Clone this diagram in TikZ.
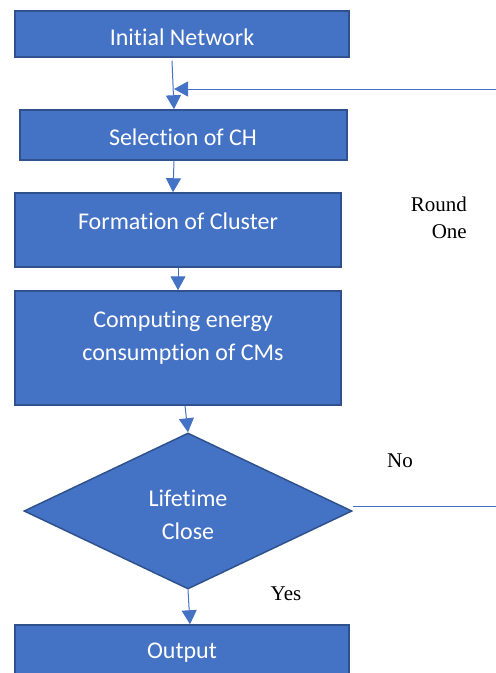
\documentclass[tikz,border=0pt]{standalone}
\usepackage{fontspec}
\setmainfont{Liberation Serif}
\newfontfamily\boxfont[Ligatures={NoCommon}]{Carlito}
\usetikzlibrary{arrows.meta,shapes.geometric,calc}
\definecolor{boxfill}{HTML}{4472C4}
\definecolor{boxline}{HTML}{2F528F}
\begin{document}
\begin{tikzpicture}[x=1pt,y=1pt,
  stepbox/.style={draw=boxline,fill=boxfill,line width=1.5pt,rectangle,inner sep=0pt},
  boxtext/.style={text=white,font=\boxfont\fontsize{24}{33}\selectfont,align=center,inner sep=0pt},
  plain/.style={font=\fontsize{21}{26.5}\selectfont,inner sep=0pt},
  conn/.style={draw=boxfill,line width=1pt,-{Triangle[width=15pt,length=14pt]}},
  line/.style={draw=boxfill,line width=1pt}]
\useasboundingbox (0,0) rectangle (496,-673);
\clip (0,0) rectangle (496,-673);
% boxes
\node[stepbox,minimum width=334pt,minimum height=46pt] (b1) at (182,-34) {};
\node[stepbox,minimum width=327pt,minimum height=50pt] (b2) at (183.5,-135) {};
\node[stepbox,minimum width=326pt,minimum height=74pt] (b3) at (178,-230) {};
\node[stepbox,minimum width=326pt,minimum height=114pt] (b4) at (178,-348) {};
\node[stepbox,diamond,minimum width=328pt,minimum height=156pt,aspect=2.1] (d) at (188,-511) {};
\node[stepbox,minimum width=334pt,minimum height=70pt] (b5) at (182,-660) {};
% texts
\node[boxtext] (t1) at (182,-37) {Initial Network};
\node[boxtext] (t2) at (183,-137) {Selection of CH};
\node[boxtext] (t3) at (178,-221) {Formation of Cluster};
\node[boxtext] (t4) at (183,-338) {Computing energy\\consumption of CMs};
\node[boxtext] (t5) at (188,-515) {Lifetime\\Close};
\node[boxtext] (t6) at (182,-653) {Output};
\node[plain,align=right,anchor=north east] (r1) at (467,-197) {Round\\One};
\node[plain] (no) at (400,-461) {No};
\node[plain] (yes) at (286,-594) {Yes};
% connectors
\coordinate (rt) at (496,-89);
\coordinate (rb) at (496,-506);
\draw[conn] ([xshift=-10pt,yshift=-3pt]b1.south) -- ([xshift=-9.5pt]b2.north);
\draw[conn] (rt) -- (174,-89);
\draw[conn] ([xshift=-9.5pt]b2.south) -- ([xshift=-5pt]b3.north);
\draw[conn] ([xshift=0pt]b3.south) -- ([xshift=0pt]b4.north);
\draw[conn] ([xshift=7pt]b4.south) -- (d.north);
\draw[conn] (d.south) -- ([xshift=8pt]b5.north);
\draw[line] ([yshift=5pt]d.east) -- (rb);
\end{tikzpicture}
\end{document}
